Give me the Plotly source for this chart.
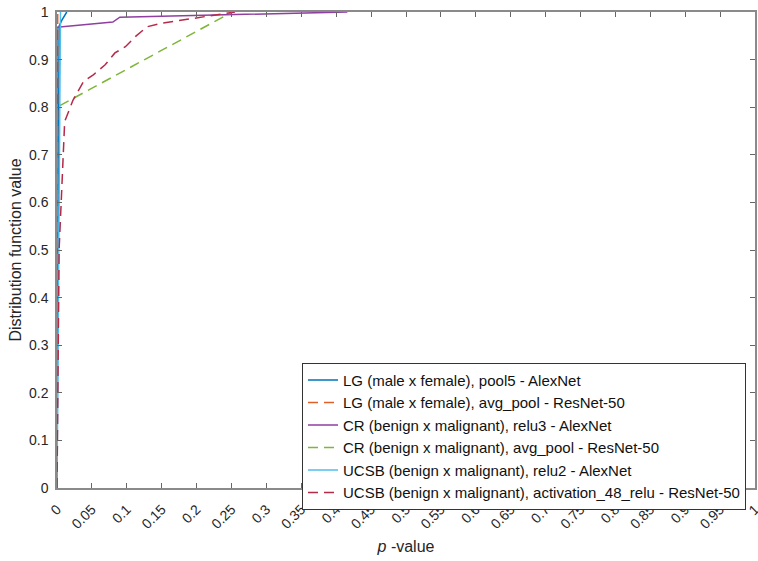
import plotly.graph_objects as go

series_names = [
    "LG (male x female), pool5 - AlexNet",
    "LG (male x female), avg_pool - ResNet-50",
    "CR (benign x malignant), relu3 - AlexNet",
    "CR (benign x malignant), avg_pool - ResNet-50",
    "UCSB (benign x malignant), relu2 - AlexNet",
    "UCSB (benign x malignant), activation_48_relu - ResNet-50",
]
series_colors = ["#0072BD", "#E0602A", "#8E3FA0", "#7FB53A", "#4DBEEE", "#B52A48"]
series_dash = ["solid", "10px,6px", "solid", "10px,6px", "solid", "10px,6px"]

lg_alex_x = [0.0, 0.003, 0.007, 0.014]
lg_alex_y = [0.0, 0.97, 0.983, 1.0]

lg_res_x = [0.0, 0.0, 0.001]
lg_res_y = [0.0, 0.99, 1.0]

cr_alex_x = [0.0, 0.0, 0.080, 0.090, 0.15, 0.25, 0.35, 0.416]
cr_alex_y = [0.0, 0.968, 0.979, 0.989, 0.991, 0.994, 0.997, 1.0]

cr_res_x = [0.0, 0.0, 0.251]
cr_res_y = [0.0, 0.80, 1.0]

ucsb_alex_x = [0.0, 0.002, 0.004, 0.005]
ucsb_alex_y = [0.0, 0.5, 0.97, 1.0]

ucsb_res_x = [0.0, 0.001, 0.002, 0.003, 0.006, 0.008, 0.011, 0.023, 0.038, 0.052,
              0.069, 0.083, 0.098, 0.112, 0.129, 0.148, 0.181, 0.215, 0.255]
ucsb_res_y = [0.0, 0.2, 0.4, 0.5, 0.6, 0.67, 0.77, 0.815, 0.854, 0.868,
              0.889, 0.914, 0.927, 0.948, 0.969, 0.976, 0.983, 0.99, 1.0]

xs = [lg_alex_x, lg_res_x, cr_alex_x, cr_res_x, ucsb_alex_x, ucsb_res_x]
ys = [lg_alex_y, lg_res_y, cr_alex_y, cr_res_y, ucsb_alex_y, ucsb_res_y]

x_tick_vals = [i * 0.05 for i in range(21)]
x_tick_text = ["0", "0.05", "0.1", "0.15", "0.2", "0.25", "0.3", "0.35", "0.4", "0.45",
               "0.5", "0.55", "0.6", "0.65", "0.7", "0.75", "0.8", "0.85", "0.9", "0.95", "1"]
y_tick_vals = [i * 0.1 for i in range(11)]
y_tick_text = ["0", "0.1", "0.2", "0.3", "0.4", "0.5", "0.6", "0.7", "0.8", "0.9", "1"]

fig = go.Figure()
for name, color, dash, x, y in zip(series_names, series_colors, series_dash, xs, ys):
    fig.add_trace(go.Scatter(x=x, y=y, mode="lines", name=name,
                             line=dict(color=color, dash=dash, width=1.5)))

axis_common = dict(showline=True, linecolor="#8a8a8a", linewidth=1.5, mirror="ticks",
                   ticks="inside", ticklen=5, tickcolor="#666666", showgrid=False,
                   zeroline=False, automargin=False, ticklabeloverflow="allow",
                   tickfont=dict(size=14, color="#262626"))

fig.update_layout(
    width=758, height=561,
    margin=dict(l=57, r=3, t=12, b=73),
    paper_bgcolor="white", plot_bgcolor="white",
    font=dict(family="Liberation Sans, Arial, sans-serif", color="#262626"),
    xaxis=dict(range=[0, 1], tickvals=x_tick_vals, ticktext=x_tick_text, tickangle=-45,
               ticklabelstandoff=6,
               title=dict(text="<i>p</i> -value", font=dict(size=16), standoff=10),
               **axis_common),
    yaxis=dict(range=[0, 1], tickvals=y_tick_vals, ticktext=y_tick_text,
               ticklabelstandoff=4,
               title=dict(text="Distribution function value", font=dict(size=16), standoff=3),
               **axis_common),
    legend=dict(x=0.351, y=0.263, xanchor="left", yanchor="top",
                bordercolor="#333333", borderwidth=1, bgcolor="white",
                font=dict(size=15, color="#111111"), itemwidth=30, tracegroupgap=0),
    showlegend=True,
)

fig.write_html("out.html", config={"displayModeBar": False},
               post_script="document.body.style.margin='0';document.body.style.overflow='hidden';")
